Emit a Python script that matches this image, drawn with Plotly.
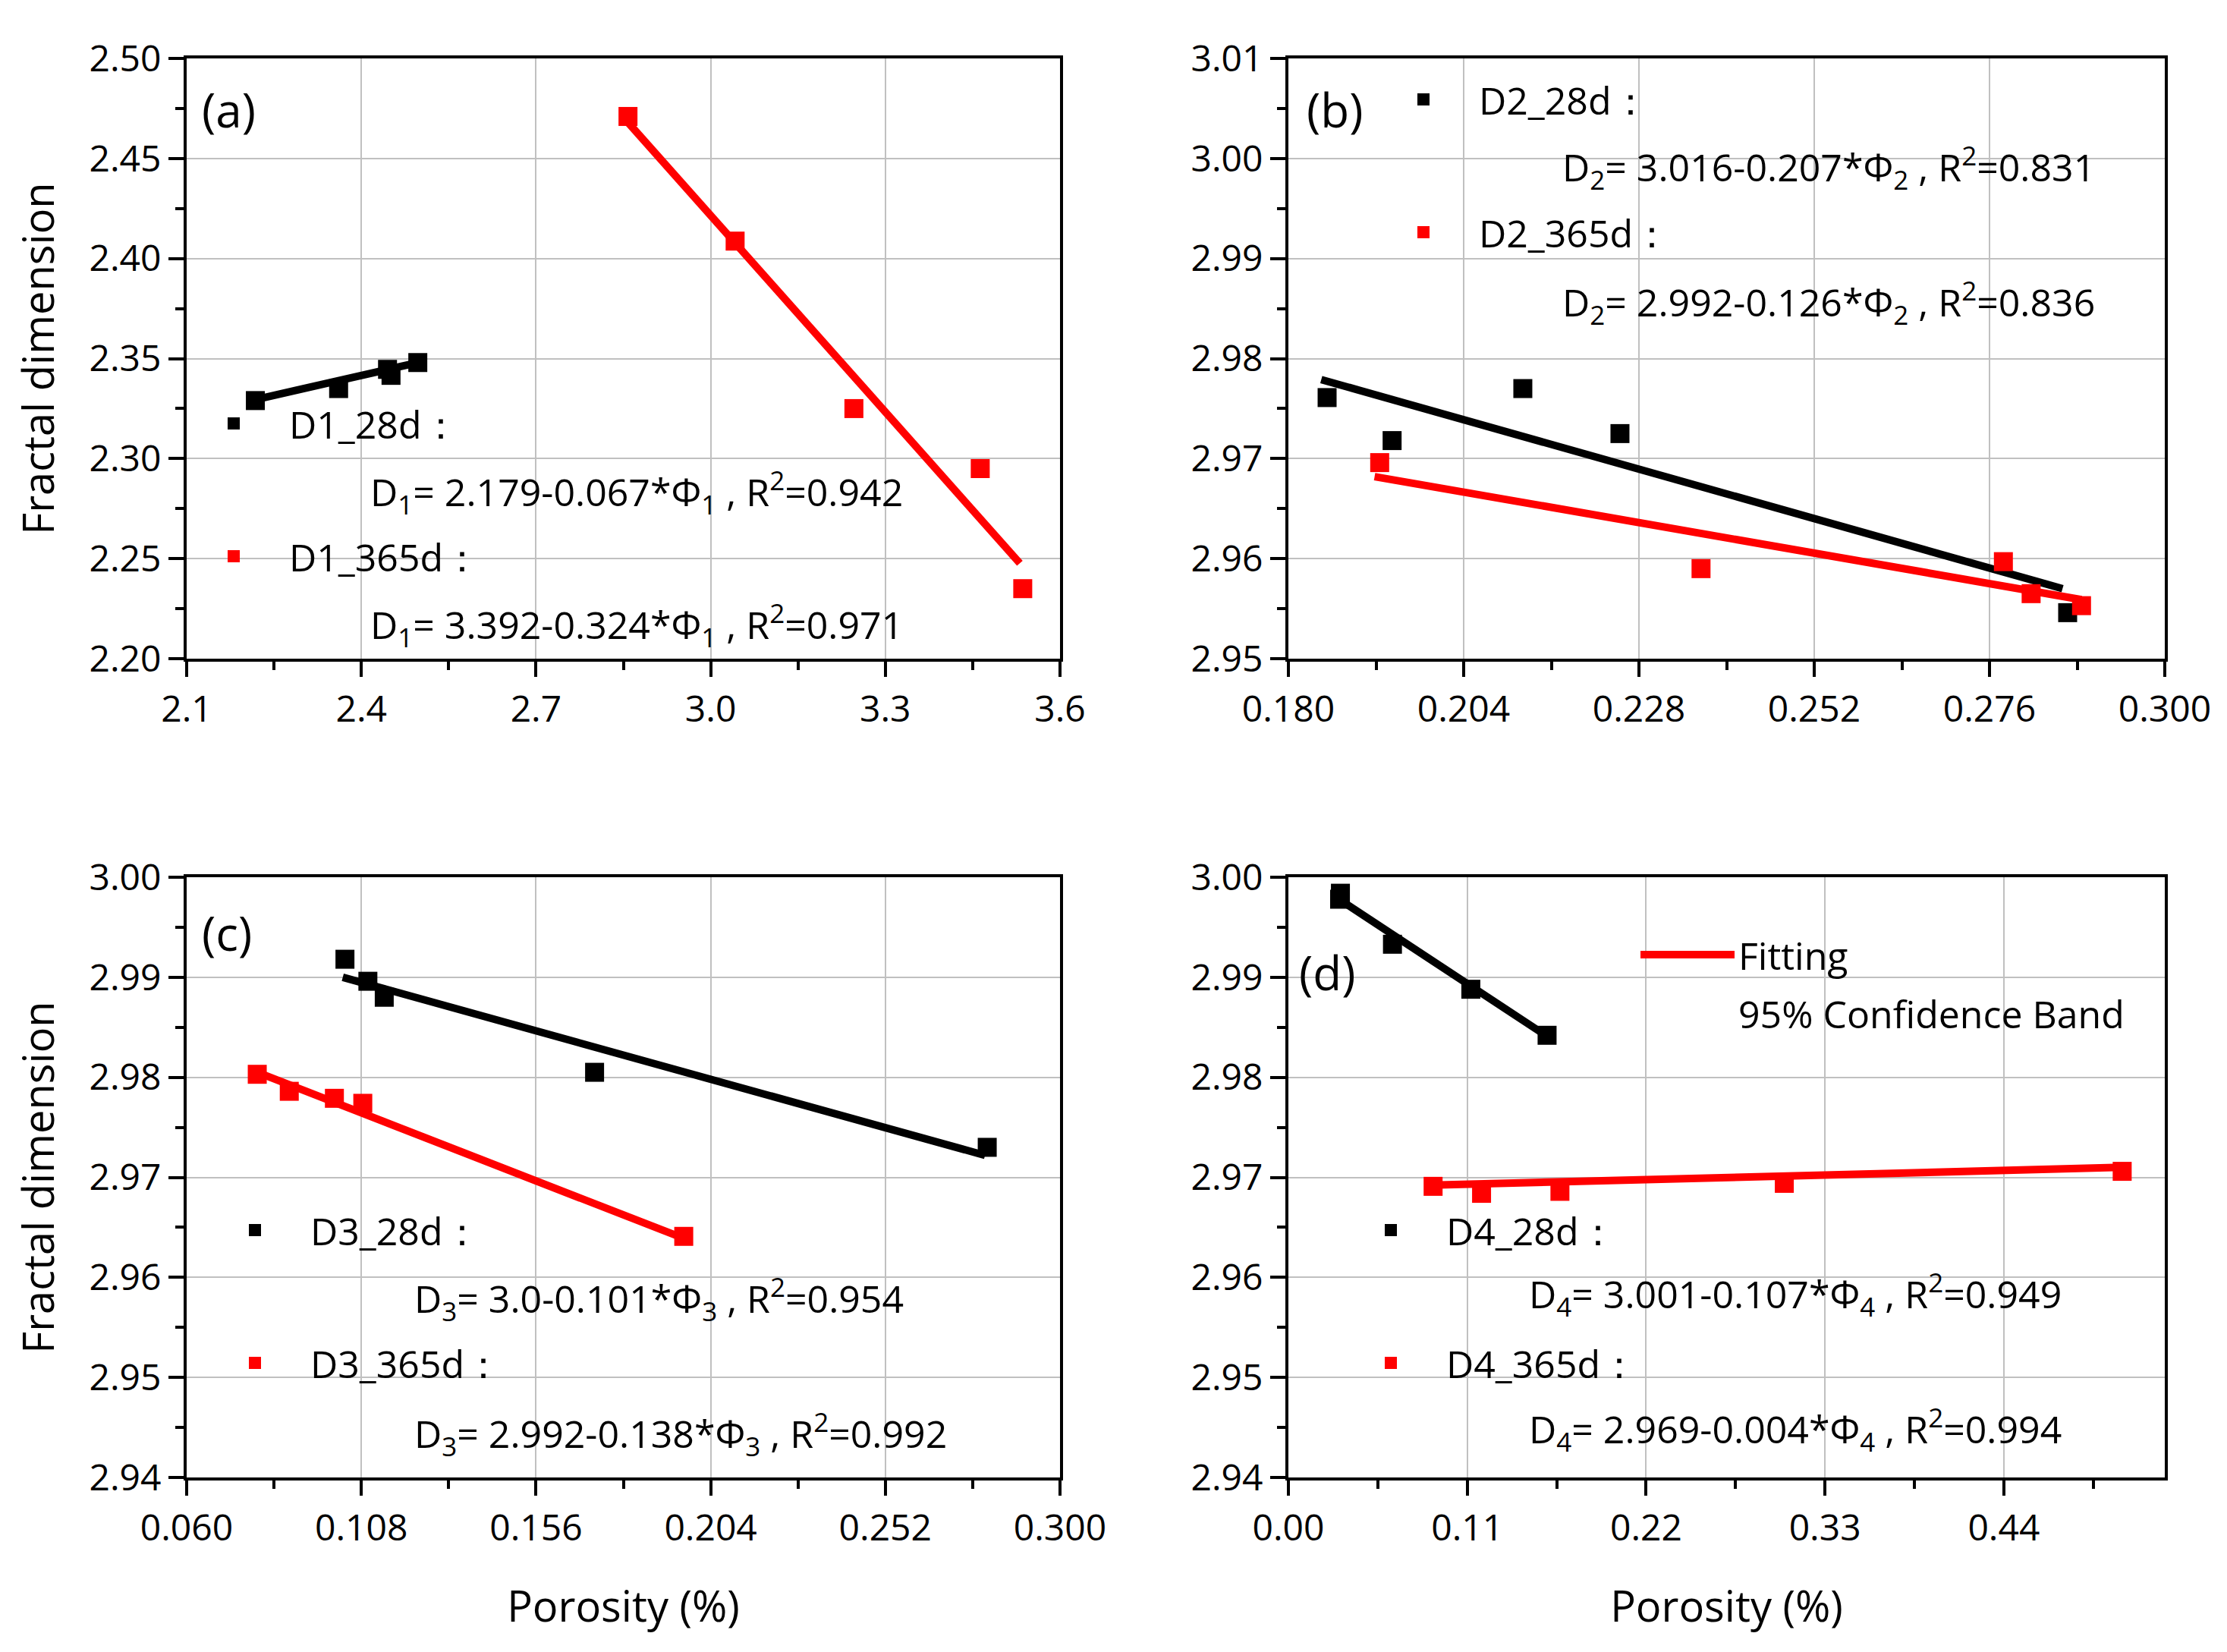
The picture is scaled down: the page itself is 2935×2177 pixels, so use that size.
import plotly.graph_objects as go

W, H = 2935, 2177
FONT = "Open Sans"

# ---------------- data ----------------
# (a)
a28_x = [2.218, 2.361, 2.445, 2.451, 2.497]
a28_y = [2.329, 2.335, 2.3446, 2.3416, 2.348]
a365_x = [2.858, 3.042, 3.246, 3.463, 3.536]
a365_y = [2.471, 2.4087, 2.325, 2.295, 2.235]
a28_fit_x = [2.218, 2.497]
a28_fit_y = [2.3295, 2.3480]
a365_fit_x = [2.858, 3.531]
a365_fit_y = [2.468, 2.2477]

# (b)
b28_x = [0.1853, 0.1942, 0.2121, 0.2254, 0.2867]
b28_y = [2.9761, 2.9718, 2.9770, 2.9725, 2.9546]
b365_x = [0.1925, 0.2365, 0.2779, 0.2817, 0.2886]
b365_y = [2.9696, 2.9590, 2.9597, 2.9565, 2.9553]
b28_fit_x = [0.1845, 0.2860]
b28_fit_y = [2.9779, 2.9570]
b365_fit_x = [0.1918, 0.2886]
b365_fit_y = [2.9682, 2.9559]

# (c)
c28_x = [0.1035, 0.1098, 0.1143, 0.1721, 0.2800]
c28_y = [2.9918, 2.9896, 2.9880, 2.9805, 2.9730]
c365_x = [0.0794, 0.0882, 0.1006, 0.1084, 0.1966]
c365_y = [2.9803, 2.9786, 2.9779, 2.9774, 2.9641]
c28_fit_x = [0.1029, 0.2794]
c28_fit_y = [2.9900, 2.9722]
c365_fit_x = [0.0780, 0.1966]
c365_fit_y = [2.9807, 2.9639]

# (d)
d28_x = [0.0320, 0.0315, 0.0640, 0.1122, 0.1591]
d28_y = [2.9984, 2.9978, 2.9933, 2.9888, 2.9842]
d365_x = [0.0890, 0.1188, 0.1670, 0.3050, 0.5128]
d365_y = [2.9691, 2.9684, 2.9686, 2.9694, 2.9706]
d28_fit_x = [0.0311, 0.1591]
d28_fit_y = [2.9978, 2.9841]
d365_fit_x = [0.0837, 0.5128]
d365_fit_y = [2.9692, 2.9710]

# axis ticks
a_xticks = [2.1, 2.4, 2.7, 3.0, 3.3, 3.6]
a_yticks = [2.20, 2.25, 2.30, 2.35, 2.40, 2.45, 2.50]
b_xticks = [0.180, 0.204, 0.228, 0.252, 0.276, 0.300]
b_yticks = [2.95, 2.96, 2.97, 2.98, 2.99, 3.00, 3.01]
c_xticks = [0.060, 0.108, 0.156, 0.204, 0.252, 0.300]
c_yticks = [2.94, 2.95, 2.96, 2.97, 2.98, 2.99, 3.00]
d_xticks = [0.00, 0.11, 0.22, 0.33, 0.44]
d_yticks = [2.94, 2.95, 2.96, 2.97, 2.98, 2.99, 3.00]

names = {
    "a": ("D1_28d：", "D1_365d："),
    "b": ("D2_28d：", "D2_365d："),
    "c": ("D3_28d：", "D3_365d："),
    "d": ("D4_28d：", "D4_365d："),
}
equations = {
    "a": ("D<sub>1</sub>= 2.179-0.067*Φ<sub>1</sub> , R<sup>2</sup>=0.942",
          "D<sub>1</sub>= 3.392-0.324*Φ<sub>1</sub> , R<sup>2</sup>=0.971"),
    "b": ("D<sub>2</sub>= 3.016-0.207*Φ<sub>2</sub> , R<sup>2</sup>=0.831",
          "D<sub>2</sub>= 2.992-0.126*Φ<sub>2</sub> , R<sup>2</sup>=0.836"),
    "c": ("D<sub>3</sub>= 3.0-0.101*Φ<sub>3</sub> , R<sup>2</sup>=0.954",
          "D<sub>3</sub>= 2.992-0.138*Φ<sub>3</sub> , R<sup>2</sup>=0.992"),
    "d": ("D<sub>4</sub>= 3.001-0.107*Φ<sub>4</sub> , R<sup>2</sup>=0.949",
          "D<sub>4</sub>= 2.969-0.004*Φ<sub>4</sub> , R<sup>2</sup>=0.994"),
}

BLACK = "#000000"
RED = "#ff0000"
MS = 25
LW = 10

fig = go.Figure()

panels = [
    ("a", "x", "y", "legend", a28_x, a28_y, a365_x, a365_y, a28_fit_x, a28_fit_y, a365_fit_x, a365_fit_y),
    ("b", "x2", "y2", "legend2", b28_x, b28_y, b365_x, b365_y, b28_fit_x, b28_fit_y, b365_fit_x, b365_fit_y),
    ("c", "x3", "y3", "legend3", c28_x, c28_y, c365_x, c365_y, c28_fit_x, c28_fit_y, c365_fit_x, c365_fit_y),
    ("d", "x4", "y4", "legend4", d28_x, d28_y, d365_x, d365_y, d28_fit_x, d28_fit_y, d365_fit_x, d365_fit_y),
]

for (p, xa, ya, lg, x28, y28, x365, y365, fx28, fy28, fx365, fy365) in panels:
    fig.add_trace(go.Scatter(x=fx28, y=fy28, mode="lines", xaxis=xa, yaxis=ya,
                             line=dict(color=BLACK, width=LW), showlegend=False))
    fig.add_trace(go.Scatter(x=fx365, y=fy365, mode="lines", xaxis=xa, yaxis=ya,
                             line=dict(color=RED, width=LW),
                             name="Fitting", legend="legend5", legendgroup="fit",
                             showlegend=(p == "d")))
    fig.add_trace(go.Scatter(x=x28, y=y28, mode="markers", xaxis=xa, yaxis=ya,
                             marker=dict(symbol="square", size=MS, color=BLACK, line=dict(width=0)),
                             name=names[p][0], legend=lg, legendgroup=p + "28"))
    fig.add_trace(go.Scatter(x=x365, y=y365, mode="markers", xaxis=xa, yaxis=ya,
                             marker=dict(symbol="square", size=MS, color=RED, line=dict(width=0)),
                             name=names[p][1], legend=lg, legendgroup=p + "365"))

# confidence band entry (no visible symbol in the reference)
fig.add_trace(go.Scatter(x=[None], y=[None], mode="lines", xaxis="x4", yaxis="y4",
                         line=dict(color="rgba(255,0,0,0)", width=0),
                         name="95% Confidence Band", legend="legend5", legendgroup="band"))

TICKFONT = dict(family=FONT, size=48, color="black")
TITLEFONT = dict(family=FONT, size=56, color="black")


def axis(domain, anchor, rng, tickvals, fmt, minor_dtick, minor_tick0, title=None, standoff=20, x=True):
    d = dict(domain=domain, anchor=anchor, range=rng, tickvals=tickvals, tickformat=fmt,
             automargin=False,
             showline=True, linecolor="black", linewidth=4, mirror=True,
             ticks="outside", ticklen=20, tickwidth=4, tickcolor="black",
             showgrid=True, gridcolor="#c0c0c0", gridwidth=2, zeroline=False,
             tickfont=TICKFONT,
             minor=dict(ticks="outside", ticklen=11, tickwidth=4, tickcolor="black",
                        dtick=minor_dtick, tick0=minor_tick0, showgrid=False))
    d["ticklabelstandoff"] = 1 if x else 0
    if title:
        d["title"] = dict(text=title, font=TITLEFONT, standoff=standoff)
    return d


XL = [238 / W, 1389 / W]
XR = [1690 / W, 2845 / W]
YT = [1 - 860 / H, 1 - 69 / H]
YB = [1 - 1939 / H, 1 - 1148 / H]

fig.update_layout(
    template="none",
    width=W, height=H,
    margin=dict(l=0, r=0, t=0, b=0, pad=0),
    paper_bgcolor="white", plot_bgcolor="white",
    font=dict(family=FONT, size=50, color="black"),
    xaxis=axis(XL, "y", [2.1, 3.6], a_xticks, ".1f", 0.15, 2.1),
    yaxis=axis(YT, "x", [2.20, 2.50], a_yticks, ".2f", 0.025, 2.2, "Fractal dimension", 29, x=False),
    xaxis2=axis(XR, "y2", [0.180, 0.300], b_xticks, ".3f", 0.012, 0.18),
    yaxis2=axis(YT, "x2", [2.95, 3.01], b_yticks, ".2f", 0.005, 2.95, x=False),
    xaxis3=axis(XL, "y3", [0.060, 0.300], c_xticks, ".3f", 0.024, 0.06, "Porosity (%)", 56),
    yaxis3=axis(YB, "x3", [2.94, 3.00], c_yticks, ".2f", 0.005, 2.94, "Fractal dimension", 29, x=False),
    xaxis4=axis(XR, "y4", [0.0, 0.539], d_xticks, ".2f", 0.055, 0.0, "Porosity (%)", 56),
    yaxis4=axis(YB, "x4", [2.94, 3.00], d_yticks, ".2f", 0.005, 2.94, x=False),
)

LEGFONT = dict(family=FONT, size=50, color="black")


def leg(x, y, gap=107, iw=136):
    return dict(x=x, y=y, xanchor="left", yanchor="top", xref="paper", yref="paper",
                bgcolor="rgba(0,0,0,0)", borderwidth=0, font=LEGFONT,
                itemwidth=iw, tracegroupgap=gap, traceorder="grouped")


fig.update_layout(
    legend=leg(227 / W, 1 - 511 / H),
    legend2=leg(1795 / W, 1 - 84 / H),
    legend3=leg(255 / W, 1 - 1574 / H),
    legend4=leg(1752 / W, 1 - 1574 / H),
    legend5=leg(2149 / W, 1 - 1211 / H, gap=9, iw=124),
)

ann = []
labels = [("(a)", 256, 136), ("(b)", 1712, 136), ("(c)", 256, 1221), ("(d)", 1702, 1273)]
for t, px, py in labels:
    ann.append(dict(text=t, x=px / W, y=1 - py / H, xref="paper", yref="paper",
                    xanchor="left", yanchor="middle", showarrow=False,
                    font=dict(family=FONT, size=62, color="black")))

eq_pos = {"a": (478, 640, 815), "b": (2049, 213, 390), "c": (536, 1703, 1881), "d": (2005, 1698, 1875)}
for p, (px, py1, py2) in eq_pos.items():
    for txt, py in zip(equations[p], (py1, py2)):
        ann.append(dict(text=txt, x=px / W, y=1 - py / H, xref="paper", yref="paper",
                        xanchor="left", yanchor="middle", showarrow=False,
                        font=dict(family=FONT, size=50, color="black")))
fig.update_layout(annotations=ann)

fig.write_html("out.html")
